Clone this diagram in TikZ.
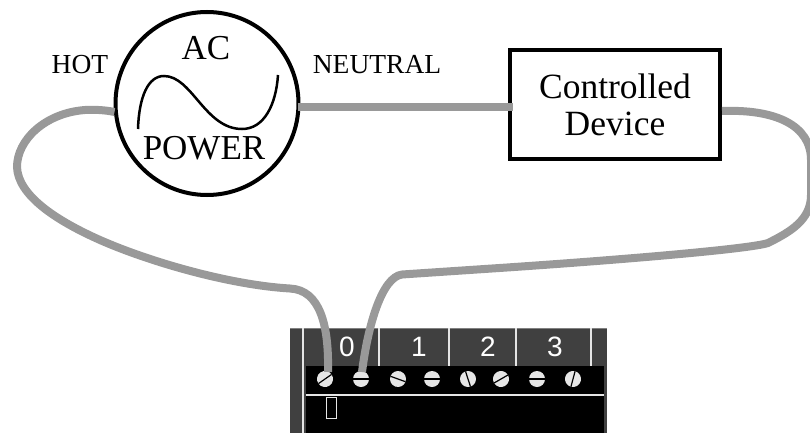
\documentclass[tikz,border=0pt]{standalone}
\usepackage{fontspec}
\setmainfont{Liberation Serif}
\setsansfont{Liberation Sans}
\usepackage{tikz}
\usetikzlibrary{positioning,calc}
\definecolor{wiregray}{HTML}{999999}
\definecolor{paneldark}{HTML}{404040}
\definecolor{screwgray}{HTML}{E6E6E6}
\tikzset{
	wire/.style={
		color=wiregray,
		line width=8pt
	},
	source/.style={
		circle,
		draw,
		line width=4pt,
		minimum size=183pt,
		inner sep=0pt,
		outer sep=0pt
	},
	device/.style={
		rectangle,
		draw,
		line width=4pt,
		minimum width=210pt,
		minimum height=109pt,
		align=center,
		outer sep=0pt,
		font=\fontsize{35.5}{37}\selectfont
	},
	big label/.style={
		inner sep=0pt,
		font=\fontsize{35}{35}\selectfont
	},
	small label/.style={
		inner sep=0pt,
		font=\fontsize{27.5}{27.5}\selectfont
	},
	digit/.style={
		inner sep=0pt,
		text=white,
		font=\sffamily\fontsize{28}{28}\selectfont
	},
	screw/.style={
		circle,
		fill=screwgray,
		minimum size=16pt,
		inner sep=0pt,
		outer sep=0pt
	},
	slot/.style={
		line width=1.2pt,
		black
	},
	rule/.style={
		line width=1.5pt,
		color=white!90!black
	}
}
\begin{document}
\begin{tikzpicture}[x=1pt,y=-1pt]
	\useasboundingbox (0,0) rectangle (810,433);
	% input module
	\fill[paneldark] (290,328) rectangle (607,433);
	\draw[line width=1pt,gray] (290,328) -- (607,328);
	\fill[black] (306,366) rectangle (604,433);
	\draw[rule] (303,328) -- (303,433);
	\draw[rule] (306,395) -- (604,395);
	\foreach \x in {379,449,516,591} {
		\draw[rule] (\x,328) -- (\x,366);
	}
	\node[digit] (d0) at (347,347) {0};
	\node[digit] (d1) at (419,347) {1};
	\node[digit] (d2) at (488,347) {2};
	\node[digit] (d3) at (555,347) {3};
	\draw[line width=1pt,screwgray] (326,397) rectangle (336,418);
	\foreach \x/\a [count=\i] in {325/35,361/0,398/-20,432/0,468/-72,501/30,537/0,573/75} {
		\node[screw,rotate=\a] (s\i) at (\x,379) {};
	}
	% supply and load
	\node[source] (power) at (207,103.5) {};
	\node[device] (load) at (615,104.5) {\rule{0pt}{26pt}Controlled\\Device};
	\node[big label] (ac) at (206,48) {AC};
	\node[big label] (pw) at (204,148) {POWER};
	\node[small label] (hot) at (80,65) {HOT};
	\node[small label] (neutral) at (377,65) {NEUTRAL};
	\draw[line width=2.5pt] (138,129) .. controls (139,97) and (148,76) .. (164,76)
		.. controls (192,76) and (205,129) .. (242,129)
		.. controls (264,129) and (276,105) .. (278,75);
	% wiring
	\coordinate (hotend) at ($(power.west)+(-1,8.5)$);
	\draw[wire] (hotend) .. controls (105,110) and (95,109.5) .. (85,110)
		.. controls (45,113) and (17,140) .. (17,167)
		.. controls (18,195) and (55,220) .. (100,240)
		.. controls (150,262) and (230,285) .. (290,288.5)
		.. controls (320,290) and (329,325) .. (328,372);
	\draw[wire] ($(power.east)+(-1,3.5)$) -- ($(load.west)+(3,2.5)$);
	\draw[wire] ($(load.east)+(2,6.5)$) .. controls (775,109) and (811,125) .. (811,160)
		-- (811,195) .. controls (811,220) and (790,232) .. (768,243)
		.. controls (750,249) and (620,260) .. (492,268.5)
		-- (402,274.5) .. controls (382,277) and (368,325) .. (362,372);
	\foreach \i in {1,...,8} {
		\draw[slot] (s\i.west) -- (s\i.east);
	}
\end{tikzpicture}
\end{document}
